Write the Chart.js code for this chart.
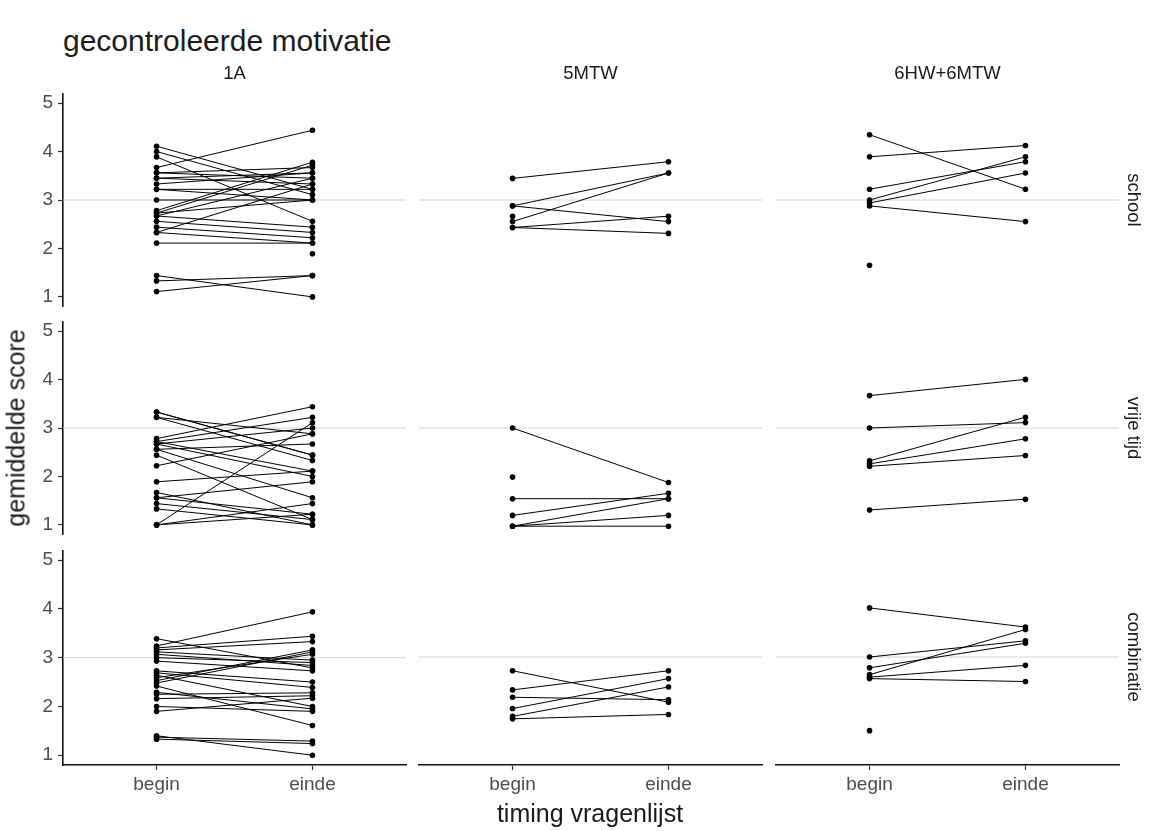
<!DOCTYPE html>
<html>
<head>
<meta charset="utf-8">
<script src="https://cdn.jsdelivr.net/npm/chart.js@4.4.0/dist/chart.umd.min.js"></script>
<style>
  body { margin: 0; background: #fff; font-family: "Liberation Sans", Arial, sans-serif; }
  #wrap { position: relative; width: 1154px; height: 831px; overflow: hidden; }
  canvas { position: absolute; }
  .txt { position: absolute; white-space: nowrap; line-height: 1; color: #1a1a1a; }
</style>
</head>
<body>
<div id="wrap"></div>
<script>
// categories
const groups = ['1A', '5MTW', '6HW+6MTW'];
const contexts = ['school', 'vrije tijd', 'combinatie'];
const timing = ['begin', 'einde'];
const yTicks = [1, 2, 3, 4, 5];
const refLine = 3;

// paired scores per student (begin -> einde), null = missing
const school_1A_begin = [3.67, 4.11, 4.00, 3.89, 3.56, 3.56, 3.45, 3.45, 3.33, 3.22, 3.22, 3.00, 2.78, 2.73, 2.67, 2.73, 2.67, 2.56, 2.44, 2.33, 2.33, 2.11, 1.44, 1.33, 1.11, null];
const school_1A_einde = [4.44, 3.22, 3.11, 2.56, 3.67, 3.45, 3.56, 3.33, 3.56, 3.22, 3.00, 3.00, 3.78, 3.72, 3.45, 3.00, 2.44, 2.33, 2.22, 3.33, 2.11, 2.11, 1.00, 1.44, 1.44, 1.89];
const vrije_1A_begin = [3.33, 3.22, 3.22, 2.78, 2.72, 2.67, 2.72, 2.56, 2.67, 2.44, 2.22, 1.89, 1.67, 1.56, 1.56, 1.44, 1.33, 1.00, 1.00, 1.00, 2.56, 3.33];
const vrije_1A_einde = [2.44, 2.88, 2.33, 3.44, 3.22, 3.00, 2.11, 1.56, 2.00, 1.11, 2.88, 2.11, 1.00, 1.89, 1.22, 1.11, 1.00, 3.11, 1.44, 1.22, 2.67, 2.44];
const combi_1A_begin = [3.24, 3.39, 3.20, 3.16, 3.12, 3.07, 3.00, 2.93, 2.53, 2.48, 2.59, 2.73, 2.69, 2.64, 2.42, 2.29, 2.25, 2.16, 1.90, 2.00, 1.40, 1.37, 1.33];
const combi_1A_einde = [3.94, 2.79, 3.44, 3.33, 2.95, 2.84, 2.90, 2.73, 3.16, 3.12, 3.07, 2.50, 2.39, 2.00, 1.61, 1.95, 2.28, 2.22, 2.17, 1.90, 1.00, 1.29, 1.24];

const school_5MTW_begin = [3.44, 2.88, 2.88, 2.56, 2.44, 2.44, 2.67];
const school_5MTW_einde = [3.78, 3.55, 2.56, 3.55, 2.67, 2.32, null];
const vrije_5MTW_begin = [3.00, 1.56, 1.22, 1.00, 1.00, 1.00, 2.00];
const vrije_5MTW_einde = [1.89, 1.56, 1.67, 1.56, 1.22, 1.00, null];
const combi_5MTW_begin = [2.72, 2.33, 2.18, 1.95, 1.79, 1.74];
const combi_5MTW_einde = [2.08, 2.72, 2.13, 2.56, 2.39, 1.83];

const school_6_begin = [4.33, 3.88, 3.22, 3.00, 2.94, 2.88, 1.67];
const school_6_einde = [3.22, 4.11, 3.78, 3.88, 3.55, 2.56, null];
const vrije_6_begin = [3.66, 3.00, 2.33, 2.27, 2.22, 1.33];
const vrije_6_einde = [3.99, 3.11, 3.22, 2.78, 2.44, 1.55];
const combi_6_begin = [4.00, 3.00, 2.78, 2.64, 2.59, 2.56, 1.50];
const combi_6_einde = [3.61, 3.33, 3.28, 3.56, 2.83, 2.50, null];

// rows = context, cols = group
const panels = [
    [[school_1A_begin, school_1A_einde], [school_5MTW_begin, school_5MTW_einde], [school_6_begin, school_6_einde]],
    [[vrije_1A_begin, vrije_1A_einde], [vrije_5MTW_begin, vrije_5MTW_einde], [vrije_6_begin, vrije_6_einde]],
    [[combi_1A_begin, combi_1A_einde], [combi_5MTW_begin, combi_5MTW_einde], [combi_6_begin, combi_6_einde]]
];

// panel geometry
const colLeft = [63, 419, 776];
const rowTop = [92, 320, 549];
const W = 343, H = 216;
const PAD = 15, LEFT = 63, BOTTOM = 42;
const xMin = 0.4, xMax = 2.6, yMin = 0.8, yMax = 5.2;

Chart.defaults.font.family = '"Liberation Sans", Arial, sans-serif';
Chart.defaults.animation = false;

const wrap = document.getElementById('wrap');

function addText(str, x, y, size, extra) {
    const d = document.createElement('div');
    d.className = 'txt';
    d.textContent = str;
    d.style.left = x + 'px';
    d.style.top = y + 'px';
    d.style.fontSize = size + 'px';
    d.style.transform = extra || 'translate(-50%, -50%)';
    wrap.appendChild(d);
}

function pairPoints(b, e) {
    const pts = [];
    b.forEach(function (v, i) {
        pts.push({ x: 1, y: v });
        pts.push({ x: 2, y: e[i] });
        pts.push({ x: 1.5, y: null });
    });
    return pts;
}

for (let r = 0; r < 3; r++) {
    for (let c = 0; c < 3; c++) {
        const showX = r === 2, showY = c === 0;
        const left = showY ? 0 : colLeft[c] - PAD;
        const w = (showY ? LEFT : PAD) + W + PAD;
        const h = PAD + H + (showX ? BOTTOM : PAD);
        const cv = document.createElement('canvas');
        cv.width = w;
        cv.height = h;
        cv.style.left = left + 'px';
        cv.style.top = (rowTop[r] - PAD) + 'px';
        cv.style.width = w + 'px';
        cv.style.height = h + 'px';
        wrap.appendChild(cv);

        const data = panels[r][c];
        new Chart(cv.getContext('2d'), {
            type: 'line',
            data: {
                datasets: [{
                    data: [{ x: xMin, y: refLine }, { x: xMax, y: refLine }],
                    borderColor: '#d3d3d3',
                    borderWidth: 1,
                    pointRadius: 0,
                    order: 2
                }, {
                    data: pairPoints(data[0], data[1]),
                    borderColor: '#000',
                    borderWidth: 1,
                    pointRadius: 2.8,
                    pointBackgroundColor: '#000',
                    pointBorderWidth: 0,
                    spanGaps: false,
                    clip: false,
                    order: 1
                }]
            },
            options: {
                responsive: false,
                devicePixelRatio: 1,
                layout: {
                    padding: { top: PAD, right: PAD, left: showY ? 0 : PAD, bottom: showX ? 0 : PAD }
                },
                plugins: { legend: { display: false }, tooltip: { enabled: false } },
                scales: {
                    x: {
                        type: 'linear',
                        min: xMin,
                        max: xMax,
                        display: showX,
                        afterBuildTicks: function (s) { s.ticks = [1, 2].map(function (v) { return { value: v }; }); },
                        afterFit: function (s) { s.height = showX ? BOTTOM : 0; },
                        ticks: {
                            callback: function (v) { return timing[v - 1]; },
                            color: '#4d4d4d',
                            font: { size: 19 },
                            padding: 3,
                            maxRotation: 0,
                            autoSkip: false
                        },
                        grid: { drawOnChartArea: false, drawTicks: true, tickLength: 5, tickColor: '#333', tickWidth: 1.2 },
                        border: { display: true, color: '#111', width: 1.6 }
                    },
                    y: {
                        type: 'linear',
                        min: yMin,
                        max: yMax,
                        display: showY,
                        afterBuildTicks: function (s) { s.ticks = yTicks.map(function (v) { return { value: v }; }); },
                        afterFit: function (s) { s.width = showY ? LEFT : 0; },
                        ticks: {
                            color: '#4d4d4d',
                            font: { size: 19 },
                            padding: 5
                        },
                        grid: { drawOnChartArea: false, drawTicks: true, tickLength: 5, tickColor: '#333', tickWidth: 1.2 },
                        border: { display: true, color: '#111', width: 1.6 }
                    }
                }
            }
        });
    }
}

// titles and strip labels
addText('gecontroleerde motivatie', 63, 41, 30, 'translateY(-50%)');
groups.forEach(function (g, c) {
    addText(g, colLeft[c] + W / 2, 73, 18.5);
});
contexts.forEach(function (t, r) {
    addText(t, 1134, rowTop[r] + H / 2, 18.5, 'translate(-50%, -50%) rotate(90deg)');
});
addText('gemiddelde score', 16, 428, 25, 'translate(-50%, -50%) rotate(-90deg)');
addText('timing vragenlijst', 590, 813, 25);
</script>
</body>
</html>
